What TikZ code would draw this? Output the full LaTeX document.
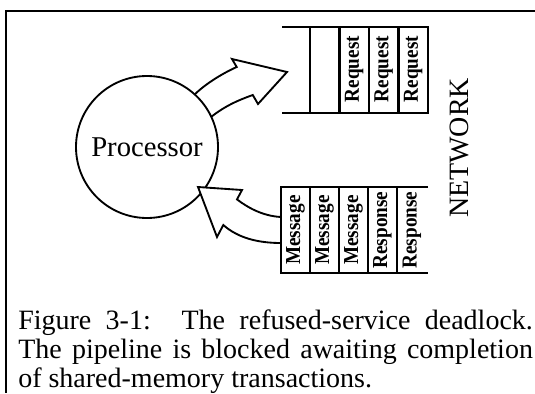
\documentclass[tikz,border=0pt]{standalone}
\usepackage{fontspec}
\setmainfont{Liberation Serif}
\newfontfamily\queuefont[FakeStretch=0.9]{Liberation Serif Bold}
\usetikzlibrary{backgrounds}
\begin{document}
\begin{tikzpicture}[x=0.75pt,y=-0.75pt,
  frameline/.style={line width=1.1pt},
  qline/.style={line width=1.7pt},
  bigarrow/.style={line width=1.4pt, fill=white, line join=miter},
  qlabel/.style={rotate=90, font=\fontsize{16}{18}\queuefont, inner sep=0pt},
  captext/.style={anchor=base west, inner sep=0pt, font=\fontsize{21}{24}\selectfont},
  procnode/.style={circle, draw, line width=1.4pt, fill=white, minimum size=106.5pt, inner sep=0pt, font=\fontsize{21.5}{24}\selectfont}]
\useasboundingbox (0,0) rectangle (535,393);
% frame
\draw[frameline] (535,11) -- (6,11) -- (6,393);
% processor
\node[procnode] (proc) at (147,147) {Processor};
% top arrow (behind the circle)
\begin{pgfonlayer}{background}
\draw[bigarrow] (185,106) .. controls (195,90) and (219,75) .. (236.7,67) -- (232,59) -- (287,72) -- (258,104) -- (252.8,95) .. controls (236,101) and (220,108) .. (203,124) -- cycle;
\end{pgfonlayer}
% top queue
\draw[qline] (282,27) -- (428,27) -- (428,113) -- (282,113);
\foreach \x in {310,339.5,369,398.5} \draw[qline] (\x,27) -- (\x,113);
\node[qlabel] (r1) at (354.25,69) {Request};
\node[qlabel] (r2) at (383.75,69) {Request};
\node[qlabel] (r3) at (413.25,69) {Request};
% bottom queue
\draw[qline] (428,187) -- (281,187) -- (281,273) -- (428,273);
\foreach \x in {310,339,368,397} \draw[qline] (\x,187) -- (\x,273);
\node[qlabel] (m1) at (295.5,230) {Message};
\node[qlabel] (m2) at (324.5,230) {Message};
\node[qlabel] (m3) at (353.5,230) {Message};
\node[qlabel] (s1) at (382.5,230) {Response};
\node[qlabel] (s2) at (412,230) {Response};
% bottom arrow (over the circle)
\draw[bigarrow] (281,217) .. controls (262,216) and (247,207) .. (237,199.4) -- (242,190) -- (198,187) -- (217,237) -- (223.3,225) .. controls (238,238) and (258,243) .. (281,243) -- cycle;
% network label
\node[rotate=90, inner sep=0pt, font=\fontsize{21}{24}\selectfont] (net) at (459,148) {NETWORK};
% caption
\node[captext] (cap1) at (18,329) {\makebox[386pt][s]{Figure 3-1:\hspace{5pt} The refused-service deadlock.}};
\node[captext] (cap2) at (18,358) {\makebox[386pt][s]{The pipeline is blocked awaiting completion}};
\node[captext] (cap3) at (18,387) {of shared-memory transactions.};
\end{tikzpicture}
\end{document}
